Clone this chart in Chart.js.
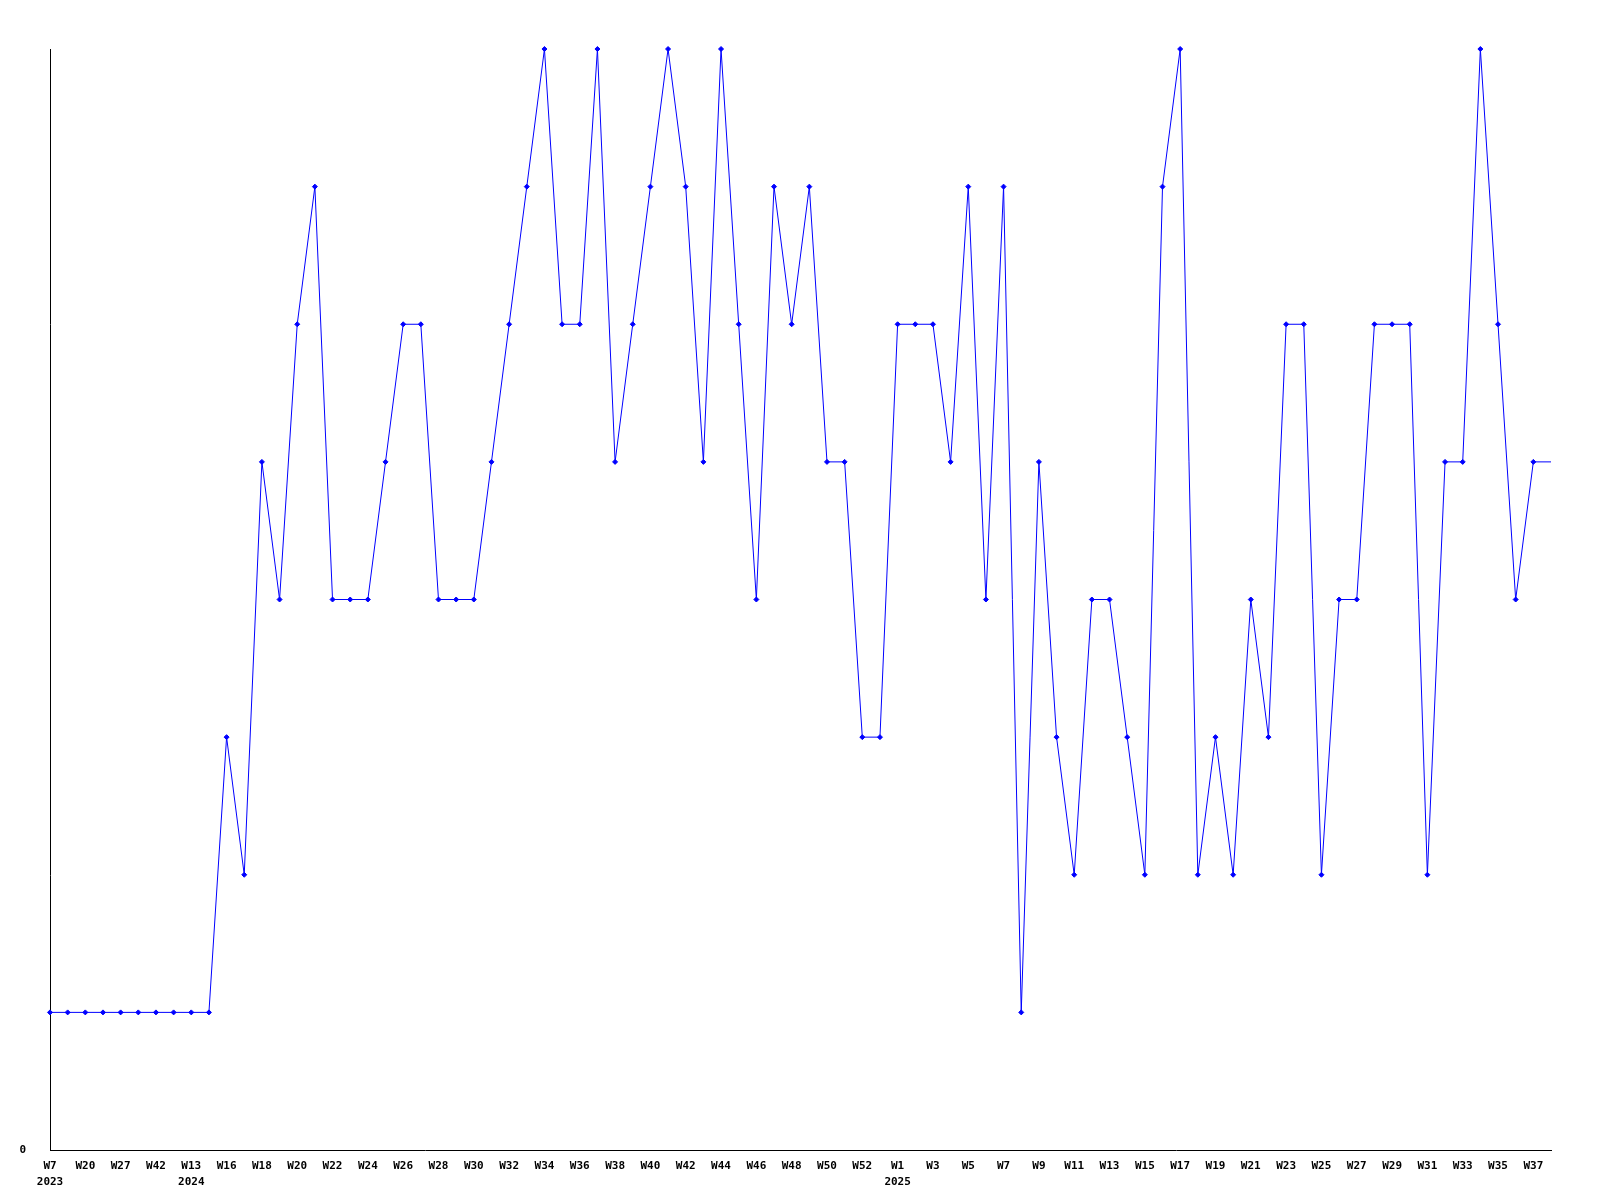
<!DOCTYPE html>
<html>
<head>
<meta charset="utf-8">
<title>Weekly count</title>
<script src="https://cdn.jsdelivr.net/npm/chart.js@4/dist/chart.umd.min.js"></script>
<style>
    html, body { margin: 0; padding: 0; background: #ffffff; }
    #chart { display: block; }
</style>
</head>
<body>
<canvas id="chart" width="1600" height="1200"></canvas>
<script>
(function () {
    'use strict';

    // one entry per week point; '' where the reference prints no label
    var WEEK_LABELS = [
        'W7', '', 'W20', '', 'W27', '', 'W42', '', 'W13', '',
        'W16', '', 'W18', '', 'W20', '', 'W22', '', 'W24', '',
        'W26', '', 'W28', '', 'W30', '', 'W32', '', 'W34', '',
        'W36', '', 'W38', '', 'W40', '', 'W42', '', 'W44', '',
        'W46', '', 'W48', '', 'W50', '', 'W52', '', 'W1', '',
        'W3', '', 'W5', '', 'W7', '', 'W9', '', 'W11', '',
        'W13', '', 'W15', '', 'W17', '', 'W19', '', 'W21', '',
        'W23', '', 'W25', '', 'W27', '', 'W29', '', 'W31', '',
        'W33', '', 'W35', '', 'W37', ''
    ];

    // year printed under the first week of each year
    var YEAR_INDEX = [0, 8, 48];
    var YEAR_LABELS = ['2023', '2024', '2025'];

    var VALUES = [
        1, 1, 1, 1, 1, 1, 1, 1, 1, 1,
        3, 2, 5, 4, 6, 7, 4, 4, 4, 5,
        6, 6, 4, 4, 4, 5, 6, 7, 8, 6,
        6, 8, 5, 6, 7, 8, 7, 5, 8, 6,
        4, 7, 6, 7, 5, 5, 3, 3, 6, 6,
        6, 5, 7, 4, 7, 1, 5, 3, 2, 4,
        4, 3, 2, 7, 8, 2, 3, 2, 4, 3,
        6, 6, 2, 4, 4, 6, 6, 6, 2, 5,
        5, 8, 6, 4, 5, 5
    ];

    var Y_MIN = 0;
    var Y_MAX = 8;

    var labels = [];
    for (var i = 0; i < WEEK_LABELS.length; i++) {
        var yi = YEAR_INDEX.indexOf(i);
        labels.push(yi >= 0 ? [WEEK_LABELS[i], YEAR_LABELS[yi]] : WEEK_LABELS[i]);
    }

    var lastIndex = VALUES.length - 1;
    var tickFont = { family: "'DejaVu Sans Mono', monospace", size: 11, weight: 'bold', lineHeight: 16 / 11 };

    new Chart(document.getElementById('chart'), {
        type: 'line',
        data: {
            labels: labels,
            datasets: [{
                data: VALUES,
                borderColor: '#0000ff',
                backgroundColor: '#0000ff',
                borderWidth: 1,
                tension: 0,
                fill: false,
                clip: false,
                pointStyle: 'rectRot',
                pointRadius: function (ctx) {
                    return ctx.dataIndex === lastIndex ? 0 : 2.5;
                },
                pointBorderWidth: 1,
                pointBackgroundColor: '#0000ff',
                pointBorderColor: '#0000ff'
            }]
        },
        options: {
            responsive: false,
            animation: false,
            layout: {
                padding: { top: 49, right: 49, left: 0, bottom: 0 }
            },
            plugins: {
                legend: { display: false },
                tooltip: { enabled: false }
            },
            scales: {
                x: {
                    offset: false,
                    grid: { display: false, drawTicks: false },
                    border: { display: true, color: '#000000', width: 1 },
                    ticks: {
                        autoSkip: false,
                        maxRotation: 0,
                        minRotation: 0,
                        padding: 8,
                        color: '#000000',
                        font: tickFont
                    },
                    afterFit: function (scale) {
                        scale.height = 50;
                    }
                },
                y: {
                    min: Y_MIN,
                    max: Y_MAX,
                    grid: { display: false, drawTicks: false },
                    border: { display: true, color: '#000000', width: 1 },
                    ticks: {
                        stepSize: 1,
                        padding: 24,
                        color: '#000000',
                        font: tickFont,
                        callback: function (v) {
                            return v === 0 ? '0' : '';
                        }
                    },
                    afterFit: function (scale) {
                        scale.width = 50;
                    }
                }
            }
        }
    });
})();
</script>
</body>
</html>
